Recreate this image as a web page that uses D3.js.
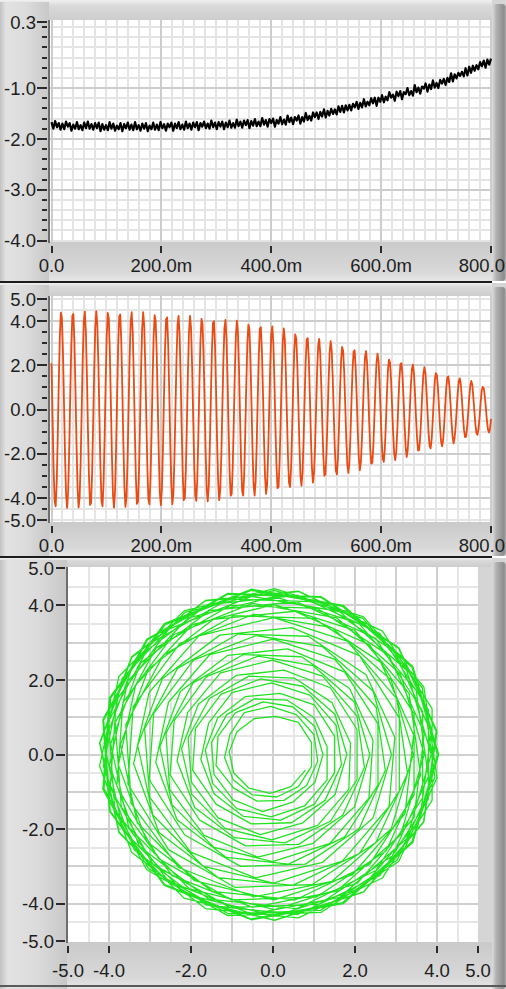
<!DOCTYPE html>
<html>
<head>
<meta charset="utf-8">
<script src="https://cdn.jsdelivr.net/npm/d3@7/dist/d3.min.js"></script>
<style>
body { margin: 0; background: #ffffff; }
svg { display: block; }
.tick-label { font-family: "Liberation Sans", Arial, sans-serif; font-size: 18.5px; fill: #1e1e1e; }
</style>
</head>
<body>
<svg id="graphs" width="506" height="989"></svg>
<script>
// waveform timing (LabVIEW style: t0 + dt, in ms)
var driftT0 = 0, driftDt = 3.306;
var oscT0 = 0, oscDt = 1.896;

// top graph: slow drift with noise
var driftY = [
  -1.67,-1.80,-1.65,-1.77,-1.69, -1.82,-1.70,-1.81,-1.66,-1.76,
  -1.69,-1.84,-1.72,-1.80,-1.67, -1.81,-1.73,-1.83,-1.68,-1.79,
  -1.66,-1.80,-1.71,-1.82,-1.69, -1.79,-1.68,-1.85,-1.71,-1.82,
  -1.73,-1.83,-1.67,-1.80,-1.70, -1.84,-1.74,-1.81,-1.69,-1.85,
  -1.71,-1.79,-1.68,-1.82,-1.72, -1.83,-1.67,-1.81,-1.73,-1.84,
  -1.70,-1.80,-1.69,-1.85,-1.74, -1.81,-1.68,-1.82,-1.72,-1.83,
  -1.67,-1.79,-1.71,-1.84,-1.70, -1.77,-1.68,-1.84,-1.70,-1.79,
  -1.67,-1.81,-1.72,-1.82,-1.66, -1.79,-1.70,-1.82,-1.68,-1.77,
  -1.67,-1.83,-1.69,-1.76,-1.66, -1.79,-1.70,-1.80,-1.64,-1.77,
  -1.68,-1.81,-1.67,-1.76,-1.66, -1.81,-1.68,-1.77,-1.64,-1.78,
  -1.69,-1.78,-1.62,-1.75,-1.66, -1.78,-1.64,-1.73,-1.63,-1.79,
  -1.65,-1.74,-1.61,-1.75,-1.66, -1.75,-1.59,-1.72,-1.63,-1.76,
  -1.61,-1.69,-1.60,-1.76,-1.63, -1.70,-1.57,-1.71,-1.62,-1.72,
  -1.54,-1.67,-1.58,-1.71,-1.57, -1.64,-1.54,-1.70,-1.57,-1.66,
  -1.49,-1.63,-1.55,-1.64,-1.48, -1.57,-1.48,-1.61,-1.47,-1.56,
  -1.42,-1.58,-1.45,-1.54,-1.41, -1.51,-1.42,-1.52,-1.36,-1.47,
  -1.35,-1.48,-1.34,-1.44,-1.33, -1.44,-1.31,-1.38,-1.27,-1.41,
  -1.29,-1.38,-1.22,-1.36,-1.27, -1.34,-1.20,-1.30,-1.19,-1.35,
  -1.19,-1.27,-1.14,-1.28,-1.17, -1.24,-1.08,-1.19,-1.13,-1.25,
  -1.07,-1.16,-1.06,-1.22,-1.08, -1.12,-1.00,-1.14,-1.06,-1.15,
  -0.94,-1.08,-0.99,-1.11,-0.97, -1.01,-0.91,-1.07,-0.93,-1.02,
  -0.85,-0.99,-0.90,-1.00,-0.84, -0.91,-0.82,-0.94,-0.80,-0.88,
  -0.71,-0.87,-0.73,-0.81,-0.70, -0.76,-0.68,-0.77,-0.61,-0.75,
  -0.58,-0.70,-0.56,-0.66,-0.55, -0.63,-0.49,-0.57,-0.46,-0.60,
  -0.44,-0.54,-0.42
];

// middle graph: decaying oscillation (also Y of the XY graph)
var oscY = [
  2.09,-0.31,-2.62,-4.13,-4.38,-3.31,-1.23,1.23,3.31,
  4.38,4.13,2.62,0.31,-2.09,-3.85,-4.45,-3.69,-1.81,
  0.62,2.86,4.23,4.32,3.09,0.93,-1.52,-3.51,-4.43,
  -4.00,-2.36,0,2.36,4.00,4.43,3.51,1.52,-0.93,
  -3.09,-4.32,-4.23,-2.86,-0.62,1.81,3.69,4.45,3.85,
  2.09,-0.31,-2.62,-4.13,-4.38,-3.31,-1.23,1.23,3.31,
  4.37,4.12,2.61,0.31,-2.08,-3.85,-4.44,-3.68,-1.81,
  0.62,2.85,4.21,4.30,3.08,0.92,-1.52,-3.49,-4.41,
  -3.97,-2.34,0,2.34,3.97,4.40,3.48,1.51,-0.92,
  -3.06,-4.27,-4.18,-2.83,-0.61,1.79,3.65,4.40,3.81,
  2.04,-0.31,-2.56,-4.04,-4.29,-3.24,-1.20,1.20,3.24,
  4.27,4.01,2.55,0.30,-2.03,-3.75,-4.33,-3.59,-1.76,
  0.60,2.76,4.09,4.17,2.99,0.89,-1.47,-3.39,-4.28,
  -3.83,-2.26,0,2.26,3.83,4.24,3.36,1.46,-0.89,
  -2.94,-4.10,-4.02,-2.72,-0.59,1.72,3.51,4.23,3.66,
  1.97,-0.29,-2.46,-3.88,-4.13,-3.11,-1.16,1.16,3.11,
  4.10,3.86,2.45,0.29,-1.95,-3.60,-4.16,-3.45,-1.69,
  0.57,2.65,3.92,4.00,2.86,0.86,-1.41,-3.25,-4.10,
  -3.66,-2.16,0,2.16,3.66,4.05,3.21,1.39,-0.85,
  -2.79,-3.90,-3.82,-2.58,-0.56,1.64,3.33,4.02,3.48,
  1.86,-0.28,-2.33,-3.67,-3.90,-2.94,-1.09,1.09,2.94,
  3.84,3.62,2.29,0.27,-1.83,-3.38,-3.90,-3.23,-1.59,
  0.53,2.47,3.65,3.72,2.67,0.80,-1.31,-3.03,-3.82,
  -3.40,-2.00,0,2.00,3.40,3.76,2.98,1.29,-0.79,
  -2.55,-3.56,-3.49,-2.36,-0.51,1.49,3.04,3.67,3.18,
  1.67,-0.25,-2.09,-3.30,-3.51,-2.65,-0.98,0.98,2.65,
  3.40,3.20,2.03,0.24,-1.62,-2.99,-3.45,-2.86,-1.40,
  0.46,2.14,3.17,3.23,2.31,0.69,-1.14,-2.62,-3.31,
  -2.89,-1.70,0,1.70,2.89,3.19,2.53,1.10,-0.67,
  -2.15,-3.00,-2.94,-1.99,-0.43,1.26,2.56,3.09,2.68,
  1.40,-0.21,-1.75,-2.76,-2.94,-2.21,-0.82,0.82,2.21,
  2.83,2.66,1.69,0.20,-1.35,-2.49,-2.87,-2.38,-1.17,
  0.38,1.77,2.62,2.68,1.92,0.57,-0.94,-2.17,-2.75,
  -2.38,-1.40,0,1.40,2.38,2.64,2.09,0.91,-0.55,
  -1.76,-2.45,-2.41,-1.63,-0.35,1.03,2.10,2.53,2.19,
  1.13,-0.17,-1.42,-2.23,-2.37,-1.79,-0.67,0.67,1.79,
  2.26,2.12,1.35,0.16,-1.07,-1.98,-2.29,-1.90,-0.93,
  0.30,1.39,2.05,2.10,1.50,0.45,-0.74,-1.70,-2.15,
  -1.83,-1.08,0,1.08,1.83,2.03,1.61,0.70,-0.42,
  -1.33,-1.86,-1.83,-1.23,-0.27,0.78,1.59,1.92,1.66,
  0.84,-0.13,-1.05,-1.66,-1.76,-1.33,-0.49,0.49,1.33,
  1.64,1.55,0.98,0.12,-0.78,-1.45,-1.67,-1.38,-0.68,
  0.21,0.99,1.46,1.49,1.07,0.32,-0.53,-1.21,-1.53,
  -1.28,-0.75,0,0.75,1.28,1.41,1.12,0.49,-0.30,
  -0.90,-1.25,-1.23,-0.83,-0.18,0.53,1.07,1.29,1.12,
  0.54,-0.08,-0.68,-1.08,-1.14,-0.86,-0.32,0.32,0.86,
  1.02,0.96,0.61,0.07,-0.49,-0.90,-1.04,-0.86,-0.42
];

// quadrature channel, X of the XY graph
var oscX = [
  -3.76,-4.23,-3.45,-1.65,0.62,2.67,3.88,3.88,2.67,
  0.62,-1.65,-3.45,-4.23,-3.76,-2.17,0.04,2.21,3.68,
  4.00,3.07,1.18,-1.10,-3.08,-4.15,-3.99,-2.65,-0.53,
  1.71,3.41,4.04,3.41,1.71,-0.53,-2.65,-3.99,-4.15,
  -3.08,-1.10,1.18,3.07,4.00,3.68,2.21,0.04,-2.17,
  -3.76,-4.23,-3.45,-1.65,0.62,2.67,3.88,3.88,2.67,
  0.62,-1.65,-3.44,-4.22,-3.75,-2.17,0.04,2.21,3.67,
  3.98,3.06,1.17,-1.10,-3.06,-4.13,-3.97,-2.64,-0.53,
  1.70,3.39,4.01,3.39,1.70,-0.53,-2.63,-3.96,-4.12,
  -3.04,-1.09,1.16,3.03,3.95,3.64,2.19,0.04,-2.15,
  -3.68,-4.14,-3.38,-1.62,0.60,2.61,3.79,3.79,2.61,
  0.60,-1.61,-3.36,-4.12,-3.66,-2.12,0.04,2.15,3.58,
  3.86,2.96,1.14,-1.07,-2.98,-4.01,-3.86,-2.56,-0.52,
  1.63,3.26,3.86,3.26,1.63,-0.52,-2.54,-3.82,-3.97,
  -2.93,-1.05,1.11,2.91,3.79,3.49,2.10,0.04,-2.07,
  -3.54,-3.99,-3.26,-1.56,0.58,2.51,3.65,3.65,2.51,
  0.57,-1.55,-3.23,-3.96,-3.52,-2.04,0.04,2.06,3.44,
  3.69,2.83,1.08,-1.03,-2.85,-3.85,-3.70,-2.46,-0.50,
  1.56,3.11,3.69,3.11,1.56,-0.50,-2.43,-3.66,-3.81,
  -2.79,-1.01,1.06,2.76,3.60,3.32,1.99,0.03,-1.97,
  -3.35,-3.77,-3.08,-1.48,0.54,2.36,3.44,3.44,2.36,
  0.53,-1.46,-3.04,-3.72,-3.31,-1.92,0.03,1.93,3.22,
  3.43,2.63,1.00,-0.96,-2.67,-3.59,-3.46,-2.30,-0.47,
  1.44,2.88,3.42,2.88,1.44,-0.47,-2.27,-3.41,-3.54,
  -2.55,-0.93,0.95,2.51,3.28,3.02,1.81,0.02,-1.81,
  -3.02,-3.40,-2.78,-1.34,0.48,2.11,3.08,3.08,2.11,
  0.46,-1.30,-2.70,-3.30,-2.93,-1.71,0.01,1.69,2.83,
  2.97,2.27,0.86,-0.85,-2.33,-3.13,-3.01,-2.01,-0.43,
  1.21,2.44,2.89,2.44,1.21,-0.41,-1.94,-2.91,-3.02,
  -2.16,-0.79,0.79,2.10,2.74,2.52,1.50,0.00,-1.54,
  -2.55,-2.86,-2.34,-1.14,0.38,1.75,2.56,2.56,1.75,
  0.36,-1.10,-2.26,-2.76,-2.46,-1.44,-0.01,1.39,2.34,
  2.44,1.87,0.69,-0.72,-1.95,-2.61,-2.52,-1.68,-0.37,
  0.98,1.99,2.36,1.99,0.98,-0.36,-1.62,-2.41,-2.51,
  -1.79,-0.67,0.63,1.70,2.23,2.05,1.21,-0.02,-1.28,
  -2.08,-2.34,-1.91,-0.94,0.29,1.40,2.05,2.05,1.40,
  0.27,-0.90,-1.82,-2.23,-1.98,-1.17,-0.03,1.09,1.85,
  1.89,1.44,0.52,-0.59,-1.55,-2.07,-1.99,-1.34,-0.31,
  0.73,1.51,1.80,1.51,0.73,-0.30,-1.27,-1.89,-1.96,
  -1.39,-0.53,0.45,1.27,1.67,1.54,0.90,-0.04,-1.00,
  -1.57,-1.76,-1.44,-0.72,0.19,1.01,1.50,1.50,1.01,
  0.17,-0.68,-1.35,-1.65,-1.47,-0.88,-0.05,0.77,1.32,
  1.32,1.00,0.34,-0.45,-1.13,-1.50,-1.44,-0.98,-0.25,
  0.48,1.02,1.22,1.02,0.48,-0.24,-0.91,-1.34,-1.39,
  -0.96,-0.39,0.27,0.82,1.09,1.00,0.57,-0.06,-0.70,
  -1.05,-1.18,-0.97,-0.51,0.09,0.62,0.94,0.94,0.62,
  0.07,-0.46,-0.88,-1.07,-0.96,-0.59,-0.07,0.44,0.79
];

// axis ticks and labels (the last time label is cut by the frame: only "800.0" shows)
var timeTicks = [0, 200, 400, 600, 800];
var timeLabels = ["0.0", "200.0m", "400.0m", "600.0m", "800.0"];
var driftTicks = [0.3, -1, -2, -3, -4];
var driftLabels = ["0.3", "-1.0", "-2.0", "-3.0", "-4.0"];
var oscTicks = [5, 4, 2, 0, -2, -4, -5];
var oscLabels = ["5.0", "4.0", "2.0", "0.0", "-2.0", "-4.0", "-5.0"];
var xyTicks = [-5, -4, -2, 0, 2, 4, 5];
var xyLabels = ["-5.0", "-4.0", "-2.0", "0.0", "2.0", "4.0", "5.0"];

var svg = d3.select("#graphs");
var defs = svg.append("defs");

function gradient(id, vertical, stops) {
  var gr = defs.append("linearGradient").attr("id", id)
    .attr("x1", 0).attr("y1", 0)
    .attr("x2", vertical ? 0 : 1).attr("y2", vertical ? 1 : 0);
  stops.forEach(s => gr.append("stop").attr("offset", s[0]).attr("stop-color", s[1]));
}
gradient("leftGrad", false, [[0, "#c2c2c2"], [0.12, "#e2e2e2"], [0.55, "#dbdbdb"], [1, "#c8c8c8"]]);
gradient("topGrad", true, [[0, "#f0f0f0"], [0.3, "#d9d9d9"], [1, "#cdcdcd"]]);
gradient("bottomGrad", true, [[0, "#cacaca"], [0.75, "#d8d8d8"], [1, "#e6e6e6"]]);
gradient("rightGrad", false, [[0, "#dedede"], [0.3, "#b2b2b2"], [0.85, "#8c8c8c"], [1, "#adadad"]]);

// gray LabVIEW style frame around one plot area
function drawFrame(top, bottom, p) {
  var f = svg.append("g");
  f.append("rect").attr("x", 0).attr("y", top).attr("width", 506).attr("height", bottom - top).attr("fill", "#d5d5d5");
  f.append("rect").attr("x", 0).attr("y", top).attr("width", 492).attr("height", p.y0 - top).attr("fill", "url(#topGrad)");
  f.append("rect").attr("x", 0).attr("y", top + 2).attr("width", p.x0).attr("height", bottom - top - 2).attr("fill", "url(#leftGrad)");
  f.append("rect").attr("x", p.x0).attr("y", p.y1).attr("width", 492 - p.x0).attr("height", bottom - p.y1).attr("fill", "url(#bottomGrad)");
  f.append("rect").attr("x", 492).attr("y", top + 4).attr("width", 14).attr("height", bottom - top - 4)
    .attr("rx", 4).attr("fill", "url(#rightGrad)");
  f.append("rect").attr("x", p.x0).attr("y", p.y0).attr("width", p.x1 - p.x0).attr("height", p.y1 - p.y0).attr("fill", "#ffffff");
}

var clipCount = 0;
function drawGraph(c) {
  var p = c.plot;
  drawFrame(c.top, c.bottom, p);
  var g = svg.append("g");

  // grid
  var grid = g.append("g").attr("shape-rendering", "crispEdges");
  grid.selectAll(".vmin").data(c.xMinor).join("line")
    .attr("x1", d => c.x(d)).attr("x2", d => c.x(d))
    .attr("y1", p.y0).attr("y2", p.y1)
    .attr("stroke", c.minorColor).attr("stroke-width", 2);
  grid.selectAll(".hmin").data(c.yMinor).join("line")
    .attr("y1", d => c.y(d)).attr("y2", d => c.y(d))
    .attr("x1", p.x0).attr("x2", p.x1)
    .attr("stroke", c.minorColor).attr("stroke-width", 2);
  grid.selectAll(".vmaj").data(c.xMajor).join("line")
    .attr("x1", d => c.x(d)).attr("x2", d => c.x(d))
    .attr("y1", p.y0).attr("y2", p.y1)
    .attr("stroke", c.majorColor).attr("stroke-width", 2);
  grid.selectAll(".hmaj").data(c.yMajor).join("line")
    .attr("y1", d => c.y(d)).attr("y2", d => c.y(d))
    .attr("x1", p.x0).attr("x2", p.x1)
    .attr("stroke", c.majorColor).attr("stroke-width", 2);

  // trace
  var id = "plotClip" + (clipCount++);
  defs.append("clipPath").attr("id", id).append("rect")
    .attr("x", p.x0 + 1).attr("y", p.y0).attr("width", p.x1 - p.x0 - 1).attr("height", p.y1 - p.y0);
  g.append("path").datum(c.points)
    .attr("clip-path", "url(#" + id + ")")
    .attr("d", d3.line().x(d => c.x(d[0])).y(d => c.y(d[1])))
    .attr("fill", "none").attr("stroke", c.color)
    .attr("stroke-width", c.width).attr("stroke-linejoin", "round");

  // left axis line
  g.append("line").attr("x1", p.x0).attr("x2", p.x0).attr("y1", p.y0).attr("y2", p.y1 + 1)
    .attr("stroke", "#6e6e6e").attr("stroke-width", 2).attr("shape-rendering", "crispEdges");

  var ticks = g.append("g").attr("shape-rendering", "crispEdges").attr("stroke", "#2a2a2a").attr("stroke-width", 2);
  ticks.selectAll(".ymin").data(c.yTickMinor).join("line")
    .attr("x1", p.x0 - 7).attr("x2", p.x0 - 2)
    .attr("y1", d => c.y(d)).attr("y2", d => c.y(d));
  ticks.selectAll(".ymaj").data(c.yTicks).join("line")
    .attr("x1", p.x0 - c.yTickLen).attr("x2", p.x0 - 2)
    .attr("y1", d => c.y(d)).attr("y2", d => c.y(d));
  ticks.selectAll(".xmaj").data(c.xTicks).join("line")
    .attr("x1", d => c.x(d)).attr("x2", d => c.x(d))
    .attr("y1", c.xTickY).attr("y2", c.xTickY + 7);

  g.selectAll(".ylab").data(c.yTicks).join("text")
    .attr("class", "tick-label")
    .attr("x", c.yLabelX).attr("y", d => c.y(d)).attr("dy", "0.36em")
    .attr("text-anchor", "end")
    .text((d, i) => c.yLabels[i]);
  var xl = g.selectAll(".xlab").data(c.xTicks).join("text")
    .attr("class", "tick-label")
    .attr("x", d => c.x(d)).attr("y", c.xLabelY).attr("dy", "0.36em")
    .attr("text-anchor", "middle")
    .text((d, i) => c.xLabels[i]);
  // keep a label that would run past the right edge inside the window
  xl.each(function () {
    var b = this.getBBox();
    if (b.x + b.width > 505) {
      d3.select(this).attr("text-anchor", "end").attr("x", 505);
    }
  });
}

function fix(v) { return +v.toFixed(2); }
var timeMinor = d3.range(0, 801, 20);

// top graph
var p1 = { x0: 49, x1: 492, y0: 20, y1: 242 };
var t1 = d3.scaleLinear().domain([0, 800]).range([51.5, 491]);
var y1 = d3.scaleLinear().domain([-4, 0.3]).range([240.5, 22]);
var drift1Minor = d3.range(-4, 0.301, 0.2).map(fix);
drawGraph({
  top: 0, bottom: 281, plot: p1, x: t1, y: y1,
  xMinor: timeMinor, xMajor: timeTicks, yMinor: drift1Minor, yMajor: [-1, -2, -3],
  minorColor: "#e4e4e4", majorColor: "#cdcdcd",
  points: driftY.map((v, i) => [driftT0 + i * driftDt, v]), color: "#000000", width: 2.2,
  yTicks: driftTicks, yLabels: driftLabels, yTickMinor: drift1Minor, yTickLen: 12,
  xTicks: timeTicks, xLabels: timeLabels, xTickY: 246, yLabelX: 36, xLabelY: 265
});

// middle graph
var p2 = { x0: 49, x1: 492, y0: 296, y1: 522 };
var y2 = d3.scaleLinear().domain([-5, 5]).range([520, 299]);
var osc2Minor = d3.range(-5, 5.001, 0.5).map(fix);
drawGraph({
  top: 283, bottom: 556, plot: p2, x: t1, y: y2,
  xMinor: timeMinor, xMajor: timeTicks, yMinor: osc2Minor, yMajor: [4, 2, 0, -2, -4],
  minorColor: "#e4e4e4", majorColor: "#cdcdcd",
  points: oscY.map((v, i) => [oscT0 + i * oscDt, v]), color: "#ea4b12", width: 1.8,
  yTicks: oscTicks, yLabels: oscLabels, yTickMinor: osc2Minor, yTickLen: 12,
  xTicks: timeTicks, xLabels: timeLabels, xTickY: 526, yLabelX: 36, xLabelY: 545
});

// XY graph
var p3 = { x0: 67, x1: 478, y0: 567, y1: 942 };
var x3 = d3.scaleLinear().domain([-5, 5]).range([68, 478]);
var y3 = d3.scaleLinear().domain([-5, 5]).range([941, 568]);
var xyHalf = d3.range(-4.5, 5, 1);
drawGraph({
  top: 558, bottom: 989, plot: p3, x: x3, y: y3,
  xMinor: xyHalf, xMajor: d3.range(-4, 5, 1), yMinor: xyHalf, yMajor: d3.range(-4, 5, 1),
  minorColor: "#e6e6e6", majorColor: "#d0d0d0",
  points: d3.zip(oscX, oscY), color: "#22e322", width: 1.3,
  yTicks: xyTicks, yLabels: xyLabels, yTickMinor: [], yTickLen: 11,
  xTicks: xyTicks, xLabels: xyLabels, xTickY: 946, yLabelX: 54, xLabelY: 970
});

// separators between the graphs
var sep = svg.append("g").attr("stroke", "#1c1c1c").attr("shape-rendering", "crispEdges");
sep.append("line").attr("x1", 0).attr("x2", 492).attr("y1", 281.5).attr("y2", 281.5).attr("stroke-width", 2);
sep.append("line").attr("x1", 0).attr("x2", 492).attr("y1", 556.5).attr("y2", 556.5).attr("stroke-width", 2);
sep.append("line").attr("x1", 0).attr("x2", 506).attr("y1", 986).attr("y2", 986).attr("stroke", "#5a5a5a").attr("stroke-width", 2);
</script>
</body>
</html>
